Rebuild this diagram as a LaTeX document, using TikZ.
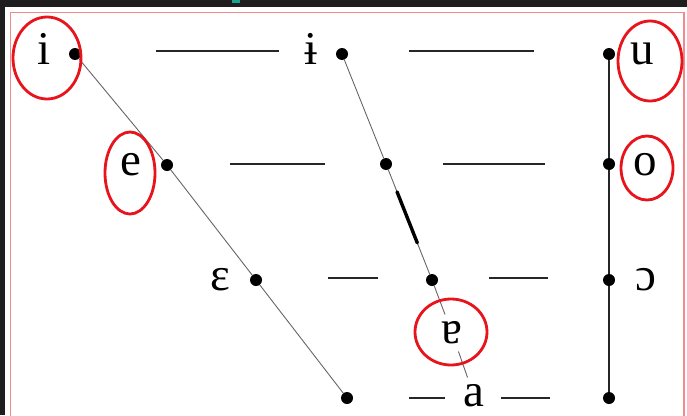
\documentclass[tikz,border=0pt]{standalone}
\usepackage{fontspec}
\setmainfont{Liberation Serif}
\newfontfamily\ipafont{Liberation Serif}
\usepackage{xcolor}
\usetikzlibrary{positioning,calc}
\definecolor{panelbg}{HTML}{1E1E1E}
\definecolor{markred}{HTML}{E8141C}
\definecolor{framered}{HTML}{F2898C}
\definecolor{tabteal}{HTML}{1AA38C}

\begin{document}
\begin{tikzpicture}[x=1pt,y=-1pt,
  dot/.style={circle,fill=black,inner sep=0pt,minimum size=12pt},
  vowel/.style={font=\ipafont\fontsize{47}{50}\selectfont,inner sep=0pt,
    outer sep=8pt,text height=21pt,text depth=0pt},
  slant/.style={gray!80!black,line width=0.9pt},
  backline/.style={black!85,line width=1.5pt},
  rule/.style={black!85,line width=1.3pt},
  ring/.style={markred,line width=2.8pt}]
  % screen around the page
  \useasboundingbox[fill=panelbg] (0,0) rectangle (687,415);
  \fill[white] (5,7) rectangle (687,415);
  \fill[tabteal] (232,0) rectangle (240,2.5);
  \draw[framered,line width=1.1pt] (10.5,12.5) rectangle (684,430);
  % dots: front, central and back columns
  \node[dot] (fi)    at (75,54)   {};
  \node[dot] (fe)    at (167,165) {};
  \node[dot] (feps)  at (256,280) {};
  \node[dot] (flow)  at (347,398) {};
  \node[dot] (ci)    at (342,54)  {};
  \node[dot] (ce)    at (386,164) {};
  \node[dot] (ceps)  at (432,280) {};
  \node[dot] (bu)    at (609,54)  {};
  \node[dot] (bo)    at (609,164) {};
  \node[dot] (bopen) at (609,280) {};
  \node[dot] (blow)  at (609,398) {};
  % vowel symbols
  \node[vowel] (li)     at (44,54)   {i};
  \node[vowel] (libar)  at (311,54)  {ɨ};
  \node[vowel] (lu)     at (642,54)  {u};
  \node[vowel] (le)     at (131,165) {e};
  \node[vowel] (lo)     at (645,165) {o};
  \node[vowel] (leps)   at (220,280) {ɛ};
  \node[vowel] (lopen)  at (646,280) {ɔ};
  \node[vowel] (lschwa) at (452,333) {ɐ};
  \node[vowel] (la)     at (474,396) {a};
  % slanted and vertical lines
  \draw[slant] (fi) -- (fe) -- (feps) -- (flow);
  \draw[slant] (ci) -- (ce) -- (ceps) -- (lschwa) -- (la);
  \draw[backline] (bu) -- (bo) -- (bopen) -- (blow);
  \draw[black,line width=3.4pt,line cap=round]
    ($(ce)!0.24!(ceps)$) -- ($(ce)!0.68!(ceps)$);
  % horizontal rules between the columns
  \foreach \ya/\xa/\xb in {51/156/279, 51/409/534, 164/230/325, 164/443/545,
      278/328/378, 278/489/548, 398/409/445, 398/501/550}{
    \draw[rule] (\xa,\ya) -- (\xb,\ya);
  }
  % red marks
  \foreach \cx/\cy/\rx/\ry in {47/58/34/41, 650/61/32/40, 130/173/25/41,
      647/168/26/32, 451/332/36/33}{
    \draw[ring] (\cx,\cy) ellipse [x radius=\rx, y radius=\ry];
  }
\end{tikzpicture}
\end{document}
